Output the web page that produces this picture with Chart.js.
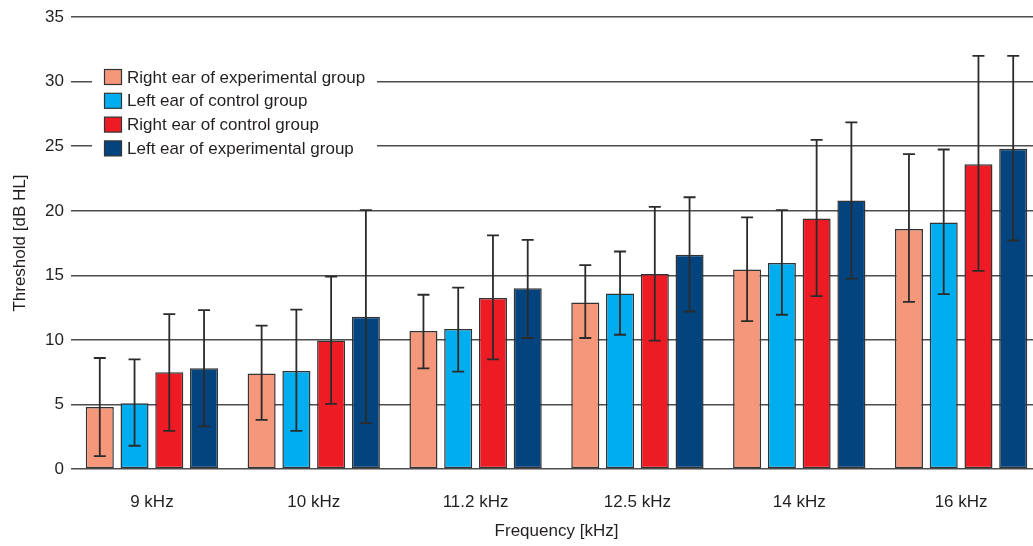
<!DOCTYPE html>
<html>
<head>
<meta charset="utf-8">
<script src="https://cdn.jsdelivr.net/npm/chart.js@4/dist/chart.umd.min.js"></script>
<style>
  html, body { margin: 0; padding: 0; background: #fff; overflow: hidden; }
  #wrap { position: relative; width: 1042px; height: 546px; }
</style>
</head>
<body>
<div id="wrap"><canvas id="hoerChart" width="1042" height="546"></canvas></div>
<script>
const FONT = "'Liberation Sans', Arial, sans-serif";

const frequenzen = ["9 kHz", "10 kHz", "11.2 kHz", "12.5 kHz", "14 kHz", "16 kHz"];
const yTicks = [0, 5, 10, 15, 20, 25, 30, 35];

const serienNamen = [
  "Right ear of experimental group",
  "Left ear of control group",
  "Right ear of control group",
  "Left ear of experimental group"
];
const serienFarben = ["#f5977a", "#00aeef", "#ed1c24", "#03447f"];

// mean thresholds
const rechtsExp = [4.8, 7.4, 10.7, 12.9, 15.45, 18.6];
const linksKontr = [5.1, 7.6, 10.85, 13.6, 15.95, 19.1];
const rechtsKontr = [7.5, 9.95, 13.25, 15.1, 19.4, 23.6];
const linksExp = [7.8, 11.8, 14.0, 16.6, 20.8, 24.8];

// error bar ends (lower / upper)
const rechtsExpMin = [1.0, 3.8, 7.8, 10.15, 11.45, 12.95];
const rechtsExpMax = [8.6, 11.1, 13.5, 15.8, 19.5, 24.4];
const linksKontrMin = [1.8, 2.95, 7.55, 10.4, 11.95, 13.55];
const linksKontrMax = [8.5, 12.35, 14.05, 16.85, 20.05, 24.75];
const rechtsKontrMin = [2.95, 5.05, 8.5, 9.95, 13.4, 15.35];
const rechtsKontrMax = [12.0, 14.9, 18.1, 20.3, 25.5, 32.0];
const linksExpMin = [3.3, 3.55, 10.15, 12.2, 14.75, 17.7];
const linksExpMax = [12.3, 20.05, 17.75, 21.05, 26.85, 32.0];

const werte = [rechtsExp, linksKontr, rechtsKontr, linksExp];
const fehlerMin = [rechtsExpMin, linksKontrMin, rechtsKontrMin, linksExpMin];
const fehlerMax = [rechtsExpMax, linksKontrMax, rechtsKontrMax, linksExpMax];

const datasets = serienNamen.map((name, i) => ({
  label: name,
  data: werte[i],
  errMin: fehlerMin[i],
  errMax: fehlerMax[i],
  backgroundColor: serienFarben[i],
  borderColor: "#333",
  borderWidth: 1.5,
  borderSkipped: false,
  barPercentage: 0.807,
  categoryPercentage: 0.859
}));

// whiskers on top of the bars
const fehlerbalken = {
  id: "fehlerbalken",
  afterDatasetsDraw(chart) {
    const ctx = chart.ctx;
    const y = chart.scales.y;
    ctx.save();
    ctx.strokeStyle = "#2b2b2b";
    ctx.lineWidth = 1.8;
    chart.data.datasets.forEach((ds, i) => {
      chart.getDatasetMeta(i).data.forEach((bar, j) => {
        const oben = y.getPixelForValue(ds.errMax[j]);
        const unten = y.getPixelForValue(ds.errMin[j]);
        ctx.beginPath();
        ctx.moveTo(bar.x, oben);
        ctx.lineTo(bar.x, unten);
        ctx.moveTo(bar.x - 6, oben);
        ctx.lineTo(bar.x + 6, oben);
        ctx.moveTo(bar.x - 6, unten);
        ctx.lineTo(bar.x + 6, unten);
        ctx.stroke();
      });
    });
    ctx.restore();
  }
};

// legend box inside the plot, covering the grid lines
const innenLegende = {
  id: "innenLegende",
  beforeDatasetsDraw(chart) {
    const ctx = chart.ctx;
    ctx.save();
    ctx.fillStyle = "#fff";
    ctx.fillRect(92, 60, 285, 102);
    ctx.font = "17px " + FONT;
    ctx.textBaseline = "middle";
    chart.data.datasets.forEach((ds, i) => {
      const yMitte = 77 + i * 23.8;
      ctx.fillStyle = ds.backgroundColor;
      ctx.fillRect(104.5, yMitte - 7.5, 17, 15);
      ctx.strokeStyle = "#333";
      ctx.lineWidth = 1.2;
      ctx.strokeRect(104.5, yMitte - 7.5, 17, 15);
      ctx.fillStyle = "#231f20";
      ctx.fillText(ds.label, 127, yMitte + 1);
    });
    ctx.restore();
  }
};

const config = {
  type: "bar",
  data: { labels: frequenzen, datasets },
  options: {
    responsive: false,
    animation: false,
    layout: { padding: { top: 7, right: 0, bottom: 0, left: 0 } },
    plugins: {
      legend: { display: false },
      tooltip: { enabled: false }
    },
    scales: {
      x: {
        grid: { display: false, drawTicks: false },
        border: { display: false },
        ticks: { color: "#231f20", font: { family: FONT, size: 17 }, padding: 23 },
        title: {
          display: true,
          text: "Frequency [kHz]",
          color: "#231f20",
          font: { family: FONT, size: 17 },
          padding: { top: 0, bottom: 4 }
        },
        afterFit(scale) { scale.height = 77; }
      },
      y: {
        min: 0,
        max: 35,
        afterBuildTicks(scale) { scale.ticks = yTicks.map(v => ({ value: v })); },
        grid: { color: "#4d4d4d", lineWidth: 1.6, drawTicks: false },
        border: { display: false },
        ticks: { color: "#231f20", font: { family: FONT, size: 17 }, padding: 7 },
        title: {
          display: true,
          text: "Threshold [dB HL]",
          color: "#231f20",
          font: { family: FONT, size: 17 },
          padding: { top: 10, bottom: 0 }
        },
        afterFit(scale) { scale.width = 71; }
      }
    }
  },
  plugins: [innenLegende, fehlerbalken]
};

new Chart(document.getElementById("hoerChart"), config);
</script>
</body>
</html>
